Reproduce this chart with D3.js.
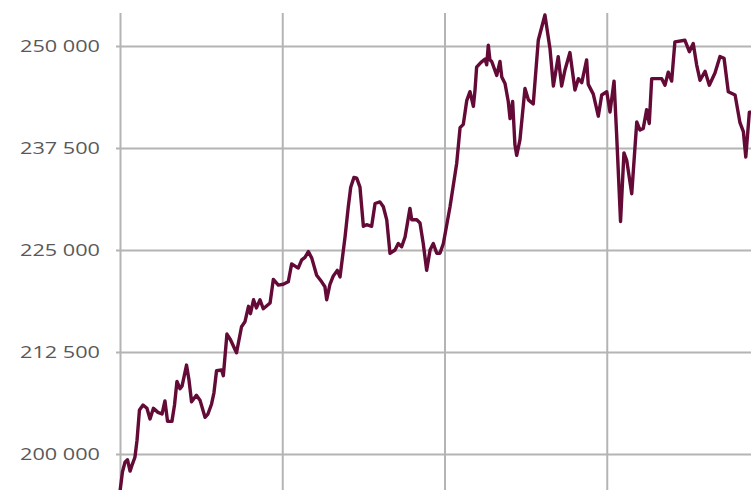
<!DOCTYPE html>
<html>
<head>
<meta charset="utf-8">
<script src="https://cdn.jsdelivr.net/npm/d3@7"></script>
<style>
  body { margin: 0; background: #fff; }
  #chart { width: 751px; height: 490px; overflow: hidden; }
</style>
</head>
<body>
<div id="chart"></div>
<script>
//----------DATA----------
// position along the time axis, in years (gridlines fall on whole years)
var yearPos = [
  2016.000, 2016.015, 2016.031, 2016.046, 2016.062, 2016.077, 2016.092, 2016.105, 2016.120, 2016.142,
  2016.166, 2016.185, 2016.206, 2016.234, 2016.259, 2016.277, 2016.293, 2016.320, 2016.336, 2016.351,
  2016.370, 2016.382, 2016.410, 2016.425, 2016.441, 2016.471, 2016.493, 2016.524, 2016.542, 2016.564,
  2016.579, 2016.595, 2016.626, 2016.637, 2016.659, 2016.681, 2016.718, 2016.749, 2016.770, 2016.792,
  2016.804, 2016.823, 2016.841, 2016.863, 2016.883, 2016.925, 2016.945, 2016.976, 2017.006, 2017.037,
  2017.058, 2017.089, 2017.099, 2017.120, 2017.140, 2017.161, 2017.182, 2017.212, 2017.243, 2017.263,
  2017.274, 2017.294, 2017.314, 2017.339, 2017.356, 2017.387, 2017.407, 2017.422, 2017.442, 2017.459,
  2017.479, 2017.500, 2017.520, 2017.551, 2017.572, 2017.602, 2017.623, 2017.644, 2017.664, 2017.695,
  2017.715, 2017.736, 2017.757, 2017.787, 2017.798, 2017.829, 2017.849, 2017.869, 2017.890, 2017.911,
  2017.931, 2017.952, 2017.972, 2017.993, 2018.034, 2018.075, 2018.096, 2018.116, 2018.137, 2018.157,
  2018.178, 2018.188, 2018.198, 2018.225, 2018.250, 2018.260, 2018.270, 2018.280, 2018.291, 2018.322,
  2018.342, 2018.353, 2018.373, 2018.393, 2018.404, 2018.420, 2018.434, 2018.445, 2018.465, 2018.496,
  2018.517, 2018.547, 2018.578, 2018.619, 2018.650, 2018.671, 2018.701, 2018.722, 2018.743, 2018.773,
  2018.804, 2018.825, 2018.846, 2018.876, 2018.886, 2018.917, 2018.948, 2018.969, 2019.000, 2019.020,
  2019.045, 2019.061, 2019.085, 2019.106, 2019.123, 2019.154, 2019.185, 2019.205, 2019.225, 2019.246,
  2019.262, 2019.277, 2019.339, 2019.359, 2019.379, 2019.400, 2019.420, 2019.482, 2019.509, 2019.533,
  2019.554, 2019.575, 2019.606, 2019.632, 2019.667, 2019.698, 2019.723, 2019.749, 2019.791, 2019.821,
  2019.842, 2019.857, 2019.879, 2019.895
];

var prices = [
  195400, 197800, 199000, 199300, 197900, 198800, 199600, 201700, 205400, 206000,
  205600, 204300, 205600, 205100, 204900, 206500, 204000, 204000, 206000, 208900,
  208000, 208300, 210900, 209100, 206400, 207200, 206600, 204500, 204900, 206100,
  207500, 210200, 210300, 209600, 214700, 214000, 212400, 215600, 216200, 218100,
  217200, 218900, 217900, 218900, 217800, 218500, 221400, 220700, 220800, 221100,
  223300, 222900, 222800, 223800, 224100, 224800, 224000, 221900, 221100, 220500,
  218900, 220800, 221800, 222500, 221700, 226600, 230300, 232700, 233900, 233800,
  232700, 227900, 228100, 227900, 230700, 230900, 230300, 228700, 224600, 225000,
  225800, 225400, 226600, 230100, 228700, 228700, 228300, 225800, 222500, 225000,
  225800, 224600, 224600, 225800, 230300, 235600, 240000, 240400, 243300, 244400,
  242600, 244600, 247400, 248000, 248400, 247700, 250100, 248300, 248100, 246400,
  248100, 246200, 245400, 243200, 241100, 243200, 237900, 236600, 238500, 244800,
  243400, 242900, 250700, 253800, 249700, 245100, 248700, 245100, 247100, 249200,
  244600, 246000, 245500, 248300, 245300, 244100, 241400, 244000, 244400, 241900,
  245700, 239100, 228500, 236900, 236000, 231900, 240700, 239700, 239900, 242200,
  240500, 246000, 246000, 245200, 246800, 245700, 250500, 250700, 249300, 250300,
  247700, 245800, 246900, 245200, 246700, 248700, 248500, 244400, 244000, 240600,
  239500, 236400, 241900, 241900
];

var yTicks = [200000, 212500, 225000, 237500, 250000];
var xTicks = [2016, 2017, 2018, 2019];

var data = yearPos.map(function(t, i) { return { t: t, price: prices[i] }; });

//----------SVG----------
var svgWidth = 751;
var svgHeight = 490;

var svg = d3.select('#chart')
    .append('svg')
    .attr('width', svgWidth)
    .attr('height', svgHeight);

// scales: whole years 162.25 px apart, 12 500 steps 102 px apart
var xScale = d3.scaleLinear()
    .domain([2016, 2016 + 631 / 162.25])
    .range([120, 751]);
var yScale = d3.scaleLinear()
    .domain([200000, 250000])
    .range([454, 46]);

var spaceFormat = d3.formatLocale({
    decimal: ',', thousands: ' ', grouping: [3], currency: ['', '']
}).format(',');

// vertical gridlines
var xGrid = svg.append('g')
    .attr('transform', 'translate(0, 495)')
    .call(d3.axisBottom(xScale)
        .tickValues(xTicks)
        .tickSize(-(495 - 13))
        .tickFormat(''));
xGrid.select('.domain').remove();
xGrid.selectAll('line')
    .attr('stroke', '#b4b4b4')
    .attr('stroke-width', 2);

// horizontal gridlines + labels
var yAxis = svg.append('g')
    .attr('transform', 'translate(116, 0)')
    .call(d3.axisLeft(yScale)
        .tickValues(yTicks)
        .tickSize(-(svgWidth - 116))
        .tickPadding(16)
        .tickFormat(spaceFormat));
yAxis.select('.domain').remove();
yAxis.selectAll('line')
    .attr('stroke', '#b4b4b4')
    .attr('stroke-width', 2);
yAxis.selectAll('text')
    .attr('fill', '#595959')
    .style('font-family', '"Open Sans", sans-serif')
    .style('font-size', '17px')
    .attr('textLength', 80)
    .attr('lengthAdjust', 'spacingAndGlyphs');

//----------LINE----------
var line = d3.line()
    .x(d => xScale(d.t))
    .y(d => yScale(d.price));

svg.append('path')
    .datum(data)
    .attr('d', line)
    .attr('fill', 'none')
    .attr('stroke', '#640a37')
    .attr('stroke-width', 3.4)
    .attr('stroke-linejoin', 'round');
</script>
</body>
</html>
